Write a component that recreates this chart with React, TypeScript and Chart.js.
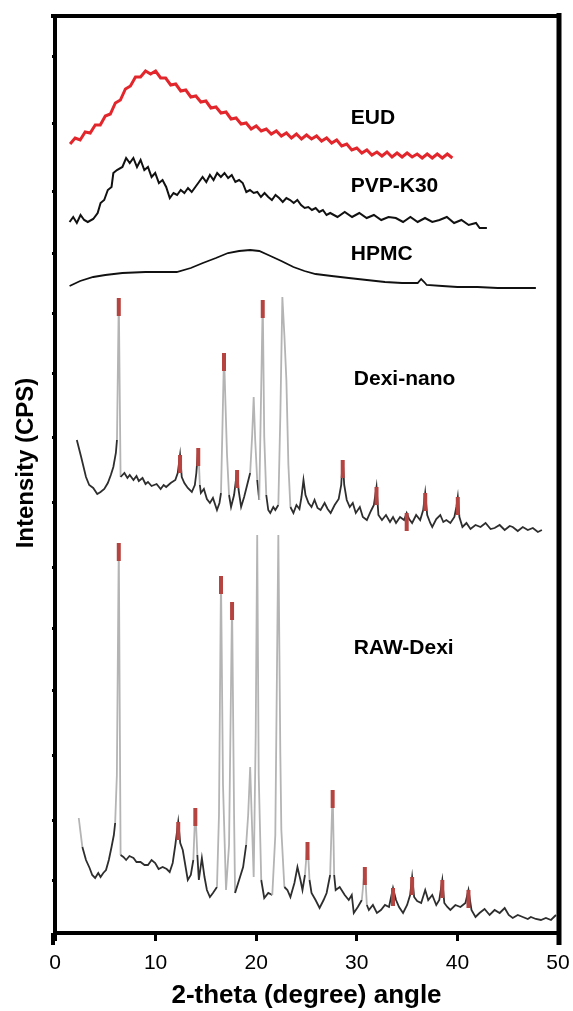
import React, { useEffect, useRef } from 'react';
import { Chart, registerables } from 'chart.js';

Chart.register(...registerables);

const FONT = "'Liberation Sans', Arial, Helvetica, sans-serif";

// ---- x-axis ticks / y-axis minor ticks ----
const xTickStep = 10;
const yTickValues = [55, 115, 180, 245, 307, 368, 433, 498, 562, 622, 682, 743, 812, 878];

// ---- EUD (red, amorphous halo) ----
const eudTheta = [1.5, 2, 2.5, 3, 3.5, 4, 4.5, 5, 5.5, 6, 6.5, 7, 7.5, 8, 8.5, 9, 9.5, 10, 10.5, 11, 11.5, 12, 12.5, 13, 13.5, 14, 14.5, 15, 15.5, 16, 16.5, 17, 17.5, 18, 18.5, 19, 19.5, 20, 20.5, 21, 21.5, 22, 22.5, 23, 23.5, 24, 24.5, 25, 25.5, 26, 26.5, 27, 27.5, 28, 28.5, 29, 29.5, 30, 30.5, 31, 31.5, 32, 32.5, 33, 33.5, 34, 34.5, 35, 35.5, 36, 36.5, 37, 37.5, 38, 38.5, 39, 39.5];
const eudCps = [791, 797, 795, 803, 802, 810, 810, 819, 821, 832, 835, 846, 849, 858, 858, 864, 861, 864, 857, 857, 850, 851, 844, 845, 838, 839, 833, 834, 827, 828, 822, 823, 816, 817, 811, 812, 806, 809, 804, 806, 801, 804, 799, 802, 797, 801, 796, 800, 796, 799, 794, 797, 792, 795, 789, 791, 785, 787, 782, 785, 780, 783, 779, 783, 778, 782, 778, 782, 778, 781, 777, 781, 777, 781, 777, 781, 777];

// ---- PVP-K30 ----
const pvpTheta = [1.45, 1.81, 2.17, 2.54, 2.9, 3.26, 3.8, 4.24, 4.53, 4.89, 5.25, 5.62, 5.8, 6.16, 6.7, 7.07, 7.43, 7.79, 8.15, 8.51, 8.88, 9.24, 9.6, 9.96, 10.33, 10.69, 11.05, 11.41, 11.78, 12.14, 12.5, 12.86, 13.22, 13.59, 13.95, 14.31, 14.67, 15.04, 15.4, 15.76, 16.12, 16.49, 16.85, 17.21, 17.57, 17.93, 18.3, 18.66, 19.02, 19.38, 19.75, 20.11, 20.47, 20.83, 21.2, 21.56, 21.92, 22.28, 22.64, 23.0, 23.37, 23.73, 24.09, 24.46, 24.82, 25.18, 25.54, 25.91, 26.27, 26.63, 26.99, 27.36, 28.08, 28.8, 29.53, 30.25, 30.98, 31.7, 32.43, 33.15, 33.88, 34.6, 35.33, 36.05, 36.78, 37.5, 38.22, 38.95, 39.67, 40.4, 41.12, 41.85, 42.21, 42.93];
const pvpCps = [713, 718, 712, 720, 715, 713, 716, 722, 732, 735, 745, 748, 762, 765, 768, 777, 772, 777, 768, 775, 765, 768, 758, 762, 752, 755, 748, 737, 742, 740, 745, 742, 747, 743, 748, 753, 758, 753, 760, 755, 762, 758, 762, 757, 760, 753, 755, 752, 743, 745, 742, 743, 738, 742, 738, 735, 740, 737, 733, 737, 735, 732, 735, 730, 727, 728, 725, 727, 723, 725, 720, 722, 718, 723, 718, 722, 717, 720, 715, 718, 717, 713, 718, 713, 717, 713, 715, 718, 712, 715, 710, 712, 707, 707];

// ---- HPMC ----
const hpmcTheta = [1.45, 2.5, 3.8, 5, 6.7, 9, 12.1, 13.5, 14.7, 16, 17.2, 18.3, 19.4, 20.3, 21.2, 22.5, 23.7, 24.8, 25.9, 27.5, 29.2, 31, 32.8, 34.5, 36.05, 36.4, 36.7, 36.95, 38.5, 40, 42, 44, 46, 47.8];
const hpmcCps = [649, 654, 658, 660, 662, 663, 663, 667, 672, 677, 682, 684, 685, 684, 680, 674, 668, 664, 661, 659, 657, 655, 653, 652, 652, 656, 653, 650, 649, 648, 648, 647, 647, 647];

// ---- Dexi-nano ----
const nanoTheta = [2.17, 2.6, 3.08, 3.4, 3.8, 4.2, 4.53, 4.9, 5.25, 5.55, 5.8, 6.05, 6.16, 6.34, 6.52, 6.9, 7.2, 7.43, 7.8, 8.1, 8.33, 8.7, 9.0, 9.24, 9.6, 10.1, 10.5, 10.8, 11.05, 11.5, 11.96, 12.2, 12.43, 12.6, 12.86, 13.2, 13.6, 13.9, 14.05, 14.24, 14.4, 14.5, 14.8, 15.1, 15.4, 15.7, 16.1, 16.35, 16.5, 16.65, 16.8, 16.95, 17.1, 17.3, 17.5, 17.8, 17.95, 18.1, 18.25, 18.5, 18.8, 19.1, 19.4, 19.6, 19.75, 19.9, 20.1, 20.3, 20.45, 20.65, 20.8, 21.0, 21.2, 21.4, 21.7, 21.9, 22.2, 22.4, 22.6, 22.8, 23.0, 23.2, 23.4, 23.7, 24.0, 24.3, 24.5, 24.7, 24.9, 25.2, 25.5, 25.8, 26.1, 26.4, 26.8, 27.1, 27.4, 27.8, 28.2, 28.45, 28.6, 28.75, 29.0, 29.3, 29.6, 29.9, 30.3, 30.6, 31.0, 31.4, 31.7, 31.96, 32.15, 32.5, 32.9, 33.3, 33.6, 33.9, 34.3, 34.7, 34.96, 35.2, 35.5, 35.9, 36.3, 36.6, 36.8, 37.0, 37.3, 37.5, 37.9, 38.3, 38.6, 38.9, 39.3, 39.7, 39.9, 40.04, 40.2, 40.5, 40.9, 41.3, 41.8, 42.3, 42.8, 43.3, 43.7, 44.2, 44.7, 45.2, 45.5, 46.0, 46.5, 47.0, 47.5, 48.0, 48.4];
const nanoCps = [495, 478, 458, 450, 447, 441, 443, 446, 452, 460, 468, 482, 495, 637, 458, 462, 457, 460, 455, 459, 454, 457, 451, 453, 449, 451, 446, 450, 448, 452, 455, 462, 480, 458, 452, 447, 443, 450, 462, 487, 450, 442, 446, 436, 432, 437, 425, 432, 442, 510, 582, 530, 480, 440, 428, 440, 452, 465, 445, 428, 438, 450, 462, 500, 538, 495, 455, 435, 520, 635, 498, 440, 425, 422, 428, 425, 430, 520, 638, 600, 555, 470, 428, 422, 430, 426, 438, 455, 440, 432, 428, 435, 427, 425, 432, 426, 422, 430, 436, 450, 475, 450, 435, 428, 432, 422, 428, 418, 415, 424, 430, 448, 420, 415, 420, 413, 418, 412, 418, 415, 422, 416, 412, 420, 415, 425, 442, 420, 412, 408, 416, 420, 413, 415, 412, 418, 428, 438, 418, 408, 412, 406, 410, 408, 412, 406, 407, 410, 405, 409, 408, 404, 408, 405, 407, 403, 405];

// ---- RAW-Dexi ----
const rawTheta = [2.36, 2.72, 3.08, 3.44, 3.7, 3.99, 4.3, 4.53, 4.8, 5.07, 5.35, 5.62, 5.85, 5.98, 6.15, 6.34, 6.45, 6.52, 6.8, 7.07, 7.4, 7.8, 8.1, 8.5, 8.9, 9.24, 9.6, 9.96, 10.3, 10.7, 11.1, 11.4, 11.7, 11.96, 12.25, 12.45, 12.7, 12.95, 13.2, 13.5, 13.75, 13.95, 14.15, 14.3, 14.6, 14.86, 15.1, 15.4, 15.7, 16.1, 16.3, 16.5, 16.7, 17.0, 17.3, 17.6, 17.8, 17.9, 18.3, 18.7, 19.0, 19.2, 19.4, 19.55, 19.75, 19.95, 20.1, 20.25, 20.5, 20.8, 21.2, 21.6, 21.9, 22.2, 22.4, 22.5, 22.8, 23.1, 23.4, 23.8, 24.1, 24.4, 24.6, 24.85, 25.1, 25.3, 25.5, 25.9, 26.3, 26.7, 27.0, 27.35, 27.6, 27.75, 27.9, 28.3, 28.8, 29.2, 29.5, 29.7, 30.1, 30.5, 30.8, 31.0, 31.2, 31.6, 32.0, 32.4, 32.8, 33.2, 33.6, 33.9, 34.2, 34.6, 35.0, 35.3, 35.5, 35.7, 36.0, 36.4, 36.8, 37.1, 37.5, 37.9, 38.2, 38.5, 38.7, 39.0, 39.3, 39.8, 40.3, 40.8, 41.1, 41.4, 41.8, 42.2, 42.7, 43.2, 43.7, 44.2, 44.7, 45.1, 45.5, 46.0, 46.5, 47.0, 47.3, 47.8, 48.3, 48.8, 49.3, 49.8];
const rawCps = [117, 88, 75, 67, 60, 57, 62, 58, 62, 65, 75, 88, 100, 112, 160, 392, 200, 80, 78, 75, 79, 77, 73, 73, 70, 70, 75, 72, 66, 68, 66, 63, 72, 90, 113, 92, 85, 70, 55, 60, 75, 127, 80, 55, 77, 58, 45, 38, 42, 48, 120, 359, 150, 45, 90, 333, 120, 42, 55, 68, 90, 120, 168, 120, 58, 200, 400, 160, 55, 37, 42, 40, 100, 400, 180, 105, 48, 45, 38, 52, 68, 55, 45, 60, 93, 55, 42, 35, 27, 35, 42, 60, 145, 60, 45, 48, 40, 35, 40, 22, 28, 35, 68, 30, 25, 30, 22, 25, 30, 28, 47, 35, 28, 22, 30, 40, 58, 38, 34, 32, 45, 35, 40, 30, 35, 55, 32, 28, 25, 30, 28, 32, 45, 25, 18, 22, 26, 20, 25, 22, 27, 20, 17, 20, 18, 16, 18, 16, 15, 17, 15, 20];

// ---- red peak markers (2-theta, peak top) ----
const nanoMarkTheta = [6.34, 12.43, 14.24, 16.8, 18.1, 20.65, 28.6, 31.96, 34.96, 36.8, 40.04];
const nanoMarkCps = [637, 480, 487, 582, 465, 635, 475, 448, 422, 442, 438];
const rawMarkTheta = [6.34, 12.25, 13.95, 16.5, 17.6, 25.1, 27.6, 30.8, 33.6, 35.5, 38.5, 41.1];
const rawMarkCps = [392, 113, 127, 359, 333, 93, 145, 68, 47, 58, 55, 45];

// ---- trace labels ----
const traceNames = ['EUD', 'PVP-K30', 'HPMC', 'Dexi-nano', 'RAW-Dexi'];
const labelTheta = [29.4, 29.4, 29.4, 29.7, 29.7];
const labelCps = [817, 749, 681, 556, 287];

const MARK_HALF = 9;

const pts = (xs: number[], ys: number[], dy = 0) => xs.map((x, i) => ({ x, y: ys[i] + dy }));

const steepColor = (ctx: any) => {
  const d = Math.abs(ctx.p1.y - ctx.p0.y);
  return d > 28 ? '#b4b4b4' : '#2e2e2e';
};

const framePlugin = {
  id: 'frame',
  afterDatasetsDraw(chart: any) {
    const { ctx, scales } = chart;
    ctx.save();
    ctx.fillStyle = '#000';
    ctx.font = `bold 21px ${FONT}`;
    ctx.textAlign = 'left';
    ctx.textBaseline = 'middle';
    traceNames.forEach((t, i) => {
      ctx.fillText(t, scales.x.getPixelForValue(labelTheta[i]), scales.y.getPixelForValue(labelCps[i]));
    });
    ctx.restore();
  },
  afterDraw(chart: any) {
    const { ctx, chartArea } = chart;
    ctx.save();
    ctx.strokeStyle = '#000';
    ctx.lineWidth = 4;
    ctx.beginPath();
    ctx.moveTo(chartArea.left - 4, chartArea.top);
    ctx.lineTo(chartArea.right + 3, chartArea.top);
    ctx.stroke();
    ctx.lineWidth = 5;
    ctx.beginPath();
    ctx.moveTo(chartArea.right + 1, chartArea.top - 3);
    ctx.lineTo(chartArea.right + 1, chartArea.bottom + 12);
    ctx.stroke();
    ctx.lineWidth = 4;
    ctx.beginPath();
    ctx.moveTo(chartArea.left - 2, chartArea.bottom);
    ctx.lineTo(chartArea.left - 2, chartArea.bottom + 12);
    ctx.stroke();
    // y-axis title
    ctx.translate(26, 463);
    ctx.rotate(-Math.PI / 2);
    ctx.fillStyle = '#000';
    ctx.font = `bold 24px ${FONT}`;
    ctx.textAlign = 'center';
    ctx.textBaseline = 'middle';
    ctx.fillText('Intensity (CPS)', 0, 0);
    ctx.restore();
  },
};

export default function App() {
  const ref = useRef<HTMLCanvasElement>(null);
  useEffect(() => {
    document.body.style.margin = '0';
    const canvas = ref.current!;
    const markerDs = (xs: number[], ys: number[]) => ({
      data: pts(xs, ys, -MARK_HALF),
      showLine: false,
      pointStyle: 'line',
      pointRotation: 90,
      pointRadius: MARK_HALF,
      pointBorderWidth: 4,
      pointBorderColor: '#b5433f',
      borderColor: '#b5433f',
      pointBackgroundColor: '#b5433f',
    });
    const lineDs = (xs: number[], ys: number[], color: string, width: number, extra: any = {}) => ({
      data: pts(xs, ys),
      showLine: true,
      borderColor: color,
      borderWidth: width,
      pointRadius: 0,
      tension: 0,
      ...extra,
    });
    const chart = new Chart(canvas, {
      type: 'scatter',
      data: {
        datasets: [
          markerDs(nanoMarkTheta, nanoMarkCps) as any,
          markerDs(rawMarkTheta, rawMarkCps) as any,
          lineDs(eudTheta, eudCps, '#e3262b', 3),
          lineDs(pvpTheta, pvpCps, '#111', 2),
          lineDs(hpmcTheta, hpmcCps, '#111', 1.8),
          lineDs(nanoTheta, nanoCps, '#2e2e2e', 1.8, { segment: { borderColor: steepColor } }),
          lineDs(rawTheta, rawCps, '#2e2e2e', 1.8, { segment: { borderColor: steepColor } }),
        ],
      },
      options: {
        responsive: false,
        animation: false,
        events: [],
        layout: { padding: { left: 0, right: 15, top: 16, bottom: 0 } },
        plugins: { legend: { display: false }, tooltip: { enabled: false } },
        scales: {
          x: {
            type: 'linear',
            min: 0,
            max: 50,
            afterFit: (s: any) => { s.height = 78; s.paddingLeft = 0; s.paddingRight = 0; },
            ticks: { stepSize: xTickStep, color: '#000', font: { family: FONT, size: 21 }, padding: 10, maxRotation: 0 },
            grid: { drawOnChartArea: false, drawTicks: true, tickLength: 8, tickWidth: 3, tickColor: '#000' },
            border: { display: true, width: 4, color: '#000' },
            title: { display: true, text: '2-theta (degree) angle', color: '#000', font: { family: FONT, size: 26, weight: 'bold' }, padding: { top: 0, bottom: 0 } },
          },
          y: {
            type: 'linear',
            min: 2,
            max: 919,
            afterFit: (s: any) => { s.width = 55; s.paddingTop = 0; s.paddingBottom = 0; },
            afterBuildTicks: (s: any) => { s.ticks = yTickValues.map((v) => ({ value: v })); },
            ticks: { display: false },
            grid: { drawOnChartArea: false, drawTicks: true, tickLength: 3, tickWidth: 3, tickColor: '#000' },
            border: { display: true, width: 4, color: '#000' },
          },
        },
      },
      plugins: [framePlugin],
    });
    return () => chart.destroy();
  }, []);
  return (
    <div style={{ width: 573, height: 1011 }}>
      <canvas ref={ref} width={573} height={1011} style={{ display: 'block' }} />
    </div>
  );
}
